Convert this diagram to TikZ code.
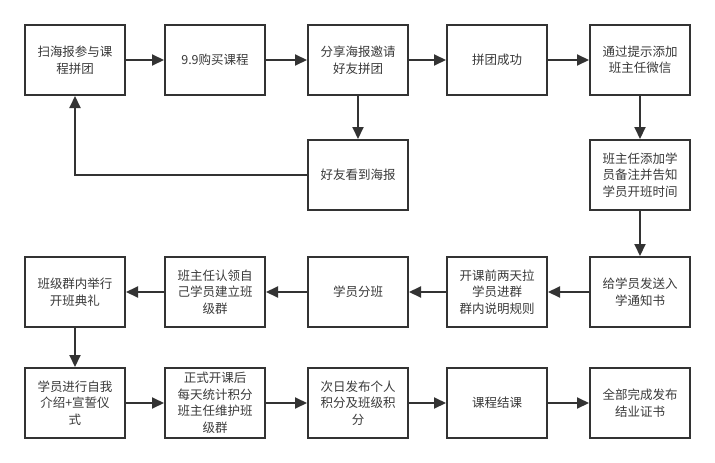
\documentclass[tikz,border=0pt]{standalone}
\usepackage{fontspec}
\setmainfont{Noto Sans CJK SC}
\usetikzlibrary{arrows.meta}
\definecolor{ink}{HTML}{333333}
\definecolor{txt}{HTML}{3A3A3A}
\tikzset{
  box/.style={draw=ink, line width=2pt, fill=white, minimum width=100pt, minimum height=70pt,
    inner sep=0pt, align=center, text=txt, font=\fontsize{12.5pt}{16.5pt}\selectfont},
  conn/.style={draw=ink, line width=2pt, -{Triangle[length=12pt,width=11pt]}}
}
\begin{document}
\begin{tikzpicture}[x=1pt,y=-1pt]
\useasboundingbox[fill=white] (0,0) rectangle (715,463);
% row 1
\node[box] (a1) at (75,60) {扫海报参与课\\程拼团};
\node[box] (a2) at (215,60) {9.9购买课程};
\node[box] (a3) at (358,60) {分享海报邀请\\好友拼团};
\node[box] (a4) at (497,60) {拼团成功};
\node[box] (a5) at (640,60) {通过提示添加\\班主任微信};
% row 2
\node[box] (b3) at (358,175) {好友看到海报};
\node[box] (b5) at (640,175) {班主任添加学\\员备注并告知\\学员开班时间};
% row 3
\node[box] (c1) at (75,292) {班级群内举行\\开班典礼};
\node[box] (c2) at (215,292) {班主任认领自\\己学员建立班\\级群};
\node[box] (c3) at (358,292) {学员分班};
\node[box] (c4) at (497,292) {开课前两天拉\\学员进群\\群内说明规则};
\node[box] (c5) at (640,292) {给学员发送入\\学通知书};
% row 4
\node[box] (d1) at (75,403) {学员进行自我\\介绍+宣誓仪\\式};
\node[box] (d2) at (215,403) {正式开课后\\每天统计积分\\班主任维护班\\级群};
\node[box] (d3) at (358,403) {次日发布个人\\积分及班级积\\分};
\node[box] (d4) at (497,403) {课程结课};
\node[box] (d5) at (640,403) {全部完成发布\\结业证书};
% connectors
\draw[conn] (a1) -- (a2);
\draw[conn] (a2) -- (a3);
\draw[conn] (a3) -- (a4);
\draw[conn] (a4) -- (a5);
\draw[conn] (a3) -- (b3);
\draw[conn] (b3.west) -| (a1.south);
\draw[conn] (a5) -- (b5);
\draw[conn] (b5) -- (c5);
\draw[conn] (c5) -- (c4);
\draw[conn] (c4) -- (c3);
\draw[conn] (c3) -- (c2);
\draw[conn] (c2) -- (c1);
\draw[conn] (c1) -- (d1);
\draw[conn] (d1) -- (d2);
\draw[conn] (d2) -- (d3);
\draw[conn] (d3) -- (d4);
\draw[conn] (d4) -- (d5);
\end{tikzpicture}
\end{document}
